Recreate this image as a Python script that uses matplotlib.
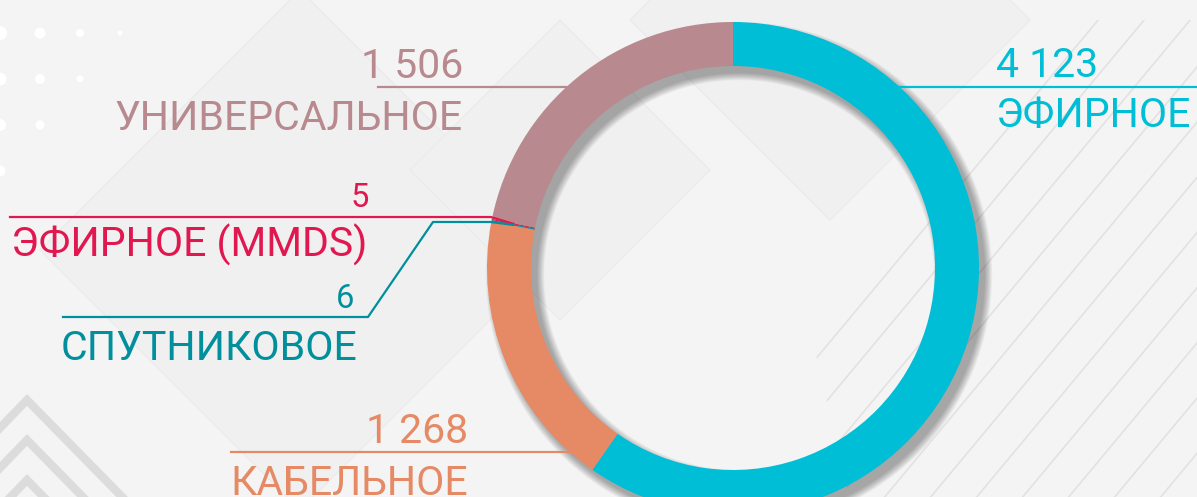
import numpy as np
import matplotlib.pyplot as plt
from matplotlib.patches import Wedge, Polygon, Circle

# data
labels = ["ЭФИРНОЕ", "КАБЕЛЬНОЕ", "СПУТНИКОВОЕ", "ЭФИРНОЕ (MMDS)", "УНИВЕРСАЛЬНОЕ"]
values = [4123, 1268, 6, 5, 1506]
value_text = ["4 123", "1 268", "6", "5", "1 506"]
colors = ["#00bed6", "#e58a65", "#008f9c", "#e0184f", "#b88a8f"]

plt.rcParams['font.family'] = ['Roboto', 'DejaVu Sans']
plt.rcParams['font.weight'] = 'normal'

W, H = 1197, 497
fig = plt.figure(figsize=(W / 100, H / 100), dpi=100)
fig.patch.set_facecolor("#f4f4f4")
ax = fig.add_axes([0, 0, 1, 1])

# background decoration
for cx_, cy_, s in [(300, 250, 260), (560, 170, 150), (830, 20, 200)]:
    ax.add_patch(Polygon([(cx_, cy_ - s), (cx_ + s, cy_), (cx_, cy_ + s), (cx_ - s, cy_)],
                         closed=True, fc="#f0f0f0", ec="#ebebeb", lw=1, zorder=0))
clip = Polygon([(850, 500), (1197, 500), (1197, 20), (1080, 20), (810, 330)], closed=True,
               fc="none", ec="none", transform=ax.transData)
ax.add_patch(clip)
for x0 in np.arange(500, 1700, 46):
    ln, = ax.plot([x0, x0 + 500], [H + 20, H + 20 - 600], color="#e2e2e2", lw=1.2, zorder=0)
    ln.set_clip_path(clip)
for row, n in enumerate([4, 3, 2, 1]):
    for k in range(n):
        ax.add_patch(Circle((k * 40, 33 + row * 46), 7 - k * 1.5 - row * 0.5,
                            fc="white", ec="none", zorder=0))
for k in range(3):
    ax.plot([-60, 27, 130], [490 + k * 40, 400 + k * 40, 505 + k * 40],
            color="#dcdcdc", lw=6, solid_joinstyle="miter", zorder=0)

# donut with soft drop shadow
cx, cy, R, w = 733, 268, 246, 44
for k in range(10):
    ax.add_patch(Wedge((cx + 6, cy + 7), R + k * 0.8, 0, 360, width=w + k * 1.6,
                       fc="black", ec="none", alpha=0.035, zorder=1))
ax.pie(values, colors=colors, startangle=-90, counterclock=True, center=(cx, cy),
       radius=R, wedgeprops=dict(width=w, edgecolor="none"), frame=True)
ax.set_xlim(0, W)
ax.set_ylim(H, 0)
ax.set_aspect("equal")
ax.axis("off")

tot = sum(values)
cum = np.cumsum([0] + values)
mid = [(cum[i] + values[i] / 2) / tot * 2 * np.pi for i in range(len(values))]


def edge_x(y, side):
    return cx + side * np.sqrt(R ** 2 - (y - cy) ** 2)


fs = 29.5
fs_small = 23.5
# ЭФИРНОЕ
y = 87
ax.plot([edge_x(y, 1) - 4, W], [y, y], color=colors[0], lw=1.6, zorder=3)
ax.text(996, 77, value_text[0], color=colors[0], fontsize=fs, ha="left", va="baseline")
ax.text(996, 127, labels[0], color=colors[0], fontsize=fs, ha="left", va="baseline")
# УНИВЕРСАЛЬНОЕ
ax.plot([378, edge_x(y, -1) + 4], [y, y], color=colors[4], lw=1.6, zorder=3)
ax.text(463, 78, value_text[4], color=colors[4], fontsize=fs, ha="right", va="baseline")
ax.text(463, 130, labels[4], color=colors[4], fontsize=fs, ha="right", va="baseline")
# КАБЕЛЬНОЕ
y = 452
ax.plot([231, edge_x(y, -1) + 4], [y, y], color=colors[1], lw=1.6, zorder=3)
ax.text(468, 443, value_text[1], color=colors[1], fontsize=fs, ha="right", va="baseline")
ax.text(468, 495, labels[1], color=colors[1], fontsize=fs, ha="right", va="baseline")
# ЭФИРНОЕ (MMDS)
px = cx + (R - w / 2) * np.sin(mid[3])
py = cy - (R - w / 2) * np.cos(mid[3])
ax.plot([10, cx - R * 0.985, px], [217, 217, py], color=colors[3], lw=1.6, zorder=3)
ax.text(369, 207, value_text[3], color=colors[3], fontsize=fs_small, ha="right", va="baseline")
ax.text(11, 257, labels[3], color=colors[3], fontsize=fs, ha="left", va="baseline")
# СПУТНИКОВОЕ
px = cx + (R - w / 2) * np.sin(mid[2])
py = cy - (R - w / 2) * np.cos(mid[2])
ax.plot([63, 368, 433, cx - R * 0.985, px], [317, 317, 222, 222, py],
        color=colors[2], lw=1.6, zorder=3)
ax.text(354, 308, value_text[2], color=colors[2], fontsize=fs_small, ha="right", va="baseline")
ax.text(61, 360, labels[2], color=colors[2], fontsize=fs, ha="left", va="baseline")

fig.savefig("out.png", dpi=100, facecolor=fig.get_facecolor())
